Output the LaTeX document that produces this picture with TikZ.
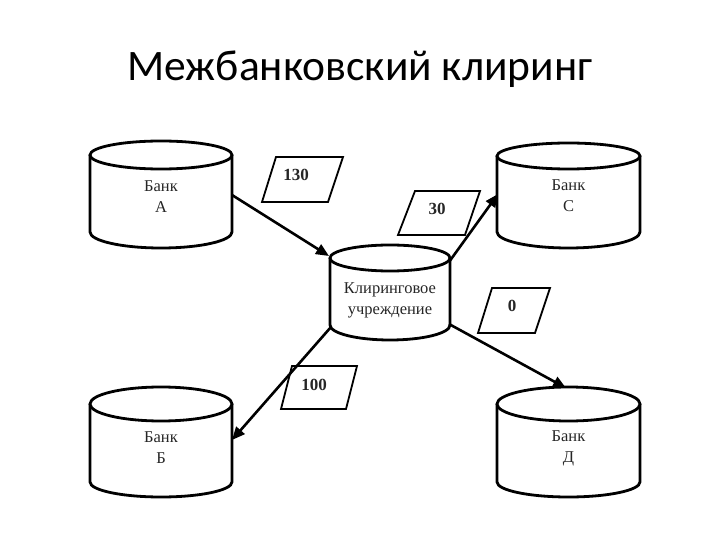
\documentclass[tikz,border=0pt]{standalone}
\usepackage{fontspec}
\setmainfont{Liberation Serif}
\newfontfamily\titlefont{Carlito}
\usetikzlibrary{arrows.meta}
\begin{document}
\begin{tikzpicture}[x=1pt,y=-1pt,
  cylline/.style={line width=2.8pt,fill=white},
  paraline/.style={line width=1.8pt},
  flow/.style={line width=2.6pt,-{Triangle[length=13pt,width=11pt]}},
  banktext/.style={font=\fontsize{16.5}{21}\selectfont,align=center,text=black!85,inner sep=0pt},
  numtext/.style={font=\bfseries\fontsize{17}{20}\selectfont,text=black!85,inner sep=0pt}]
\useasboundingbox (0,0) rectangle (720,540);
\fill[white] (0,0) rectangle (720,540);
% title
\node[font=\titlefont\fontsize{43.5}{50}\selectfont] (title) at (360,69) {Межбанковский клиринг};

% Bank A
\draw[cylline] (90,155) -- (90,232) arc[start angle=180,end angle=0,x radius=71,y radius=16] -- (232,155);
\draw[cylline] (161,155) ellipse[x radius=71,y radius=14];
\node[banktext] (A) at (161,197) {Банк\\А};
% Bank C
\draw[cylline] (497,156) -- (497,232) arc[start angle=180,end angle=0,x radius=71.5,y radius=16] -- (640,156);
\draw[cylline] (568.5,156) ellipse[x radius=71.5,y radius=13];
\node[banktext] (C) at (568.5,196) {Банк\\С};
% Bank B
\draw[cylline] (90,404) -- (90,482) arc[start angle=180,end angle=0,x radius=71,y radius=15] -- (232,404);
\draw[cylline] (161,404) ellipse[x radius=71,y radius=17];
\node[banktext] (B) at (161,448) {Банк\\Б};
% Bank D
\draw[cylline] (497,404) -- (497,482) arc[start angle=180,end angle=0,x radius=71.5,y radius=15] -- (640,404);
\draw[cylline] (568.5,404) ellipse[x radius=71.5,y radius=17];
\node[banktext] (D) at (568.5,448) {Банк\\Д};
% Clearing house
\draw[cylline] (330,258) -- (330,325) arc[start angle=180,end angle=0,x radius=60,y radius=15] -- (450,258);
\draw[cylline] (390,258) ellipse[x radius=60,y radius=13];
\node[banktext] (K) at (390,300) {Клиринговое\\учреждение};

% connector end points on the cylinders
\coordinate (Aout) at (232,195);
\coordinate (Kin) at (329,256);
\coordinate (Kc) at (449,262);
\coordinate (Cin) at (498,194);
\coordinate (Kb) at (331,327);
\coordinate (Bin) at (232,440);
\coordinate (Kd) at (449,324);
\coordinate (Din) at (566,388);

% value parallelograms
\draw[paraline] (276,157) -- (343,157) -- (328,202) -- (262,202) -- cycle;
\node[numtext] (v130) at (296,175) {130};
\draw[paraline] (415,191) -- (480,191) -- (465,235) -- (398,235) -- cycle;
\node[numtext] (v30) at (437,209) {30};
\draw[paraline] (492,288) -- (550,288) -- (535,333) -- (478,333) -- cycle;
\node[numtext] (v0) at (512,306) {0};
\draw[paraline] (292,366) -- (357,366) -- (346,409) -- (281,409) -- cycle;
\node[numtext] (v100) at (314,385) {100};

% flows
\draw[flow] (Aout) -- (Kin);
\draw[flow] (Kc) -- (Cin);
\draw[flow] (Kb) -- (Bin);
\draw[flow] (Kd) -- (Din);
\end{tikzpicture}
\end{document}
